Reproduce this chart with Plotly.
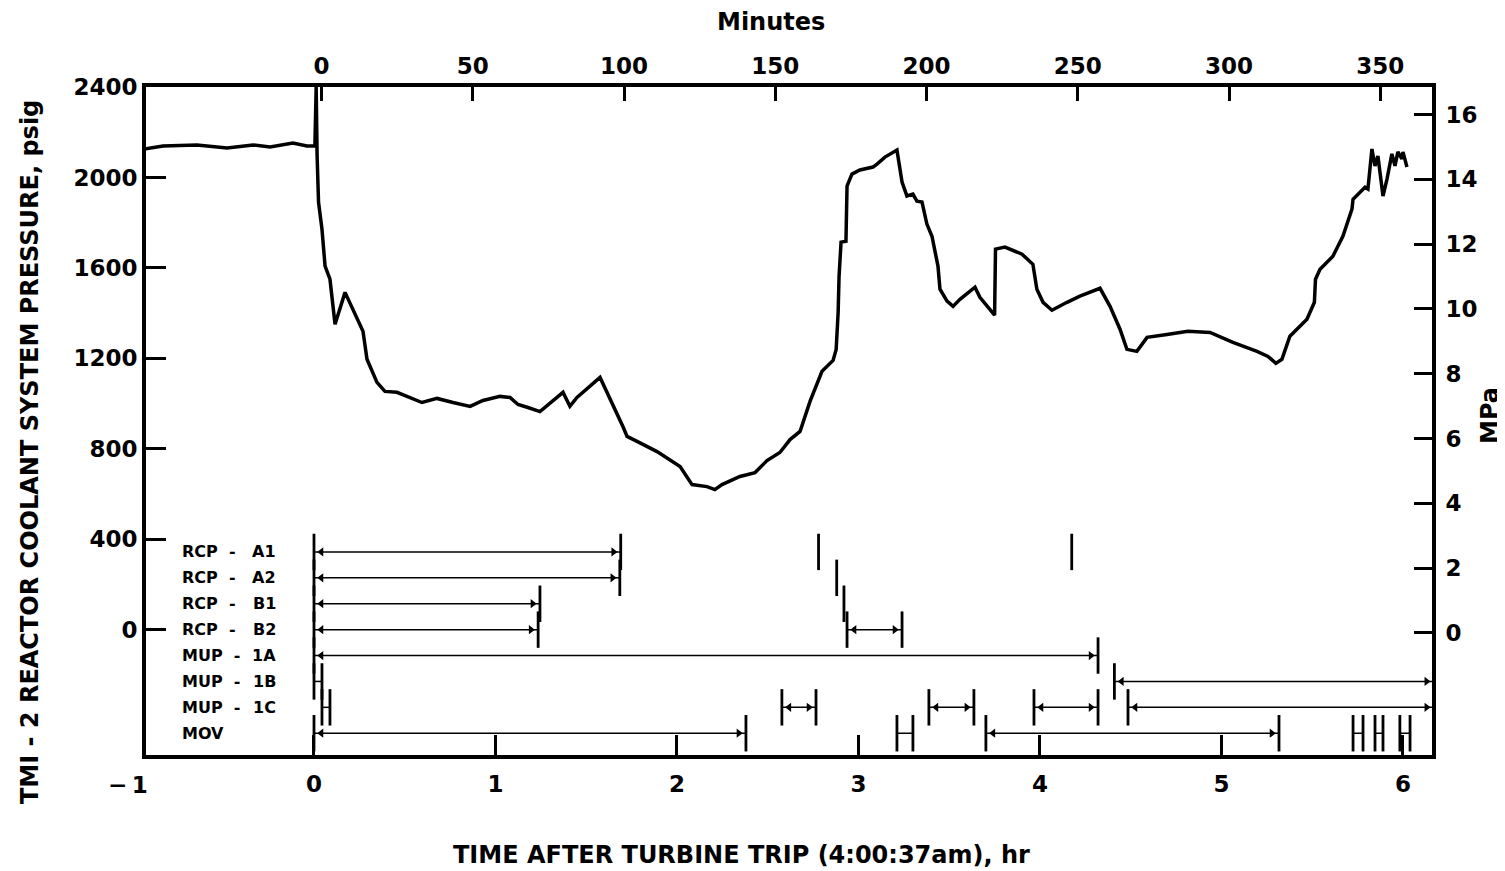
import plotly.graph_objects as go

# TMI-2 reactor coolant pressure, hours after turbine trip vs psig
TIME_HR = [
    -0.937, -0.832, -0.645, -0.479, -0.336, -0.242, -0.116, -0.039, 0.005,
    0.012, 0.017, 0.020, 0.025, 0.044, 0.061, 0.088, 0.116, 0.171, 0.270, 0.292,
    0.347, 0.391, 0.457, 0.595, 0.678, 0.766, 0.860, 0.931, 1.025, 1.080, 1.124,
    1.179, 1.245, 1.372, 1.410, 1.449, 1.548, 1.576, 1.702, 1.725, 1.780, 1.890,
    2.017, 2.083, 2.165, 2.209, 2.248, 2.347, 2.430, 2.496, 2.567, 2.623, 2.678,
    2.733, 2.799, 2.860, 2.877, 2.885, 2.888, 2.893, 2.904, 2.931, 2.937, 2.964,
    3.008, 3.080, 3.102, 3.146, 3.212, 3.240, 3.267, 3.300, 3.322, 3.350, 3.377,
    3.405, 3.438, 3.449, 3.488, 3.521, 3.559, 3.642, 3.669, 3.750, 3.752, 3.755,
    3.807, 3.901, 3.961, 3.983, 4.017, 4.066, 4.149, 4.220, 4.331, 4.386, 4.441,
    4.479, 4.534, 4.590, 4.700, 4.815, 4.937, 5.063, 5.196, 5.256, 5.300, 5.333,
    5.377, 5.471, 5.512, 5.518, 5.543, 5.614, 5.669, 5.719, 5.725, 5.763, 5.791,
    5.807, 5.829, 5.846, 5.862, 5.890, 5.912, 5.939, 5.956, 5.972, 5.994, 6.000,
    6.022,
]
PRESSURE_PSIG = [
    2126, 2139, 2144, 2130, 2144, 2135, 2152, 2139, 2140,
    2400, 2100, 1935, 1891, 1771, 1608, 1550, 1351, 1492, 1320, 1196,
    1094, 1054, 1050, 1005, 1023, 1005, 988, 1014, 1032, 1027, 996,
    983, 965, 1050, 988, 1027, 1094, 1116, 899, 855, 833, 788,
    722, 642, 633, 620, 642, 678, 695, 748, 784, 841, 877,
    1010, 1143, 1191, 1240, 1329, 1404, 1563, 1714, 1718, 1962, 2015,
    2033, 2046, 2059, 2090, 2121, 1980, 1918, 1926, 1895, 1891, 1794,
    1740, 1608, 1506, 1453, 1430, 1461, 1515, 1470, 1391, 1550, 1683,
    1692, 1661, 1616, 1506, 1448, 1413, 1448, 1475, 1510, 1430, 1329,
    1240, 1231, 1293, 1306, 1320, 1315, 1271, 1231, 1209, 1178, 1196,
    1298, 1373, 1448, 1550, 1594, 1652, 1740, 1860, 1904, 1935, 1957,
    1949, 2126, 2051, 2095, 1918, 1993, 2104, 2051, 2113, 2082, 2113,
    2046,
]

HOUR_TICKS = [0, 1, 2, 3, 4, 5, 6]
MINUTE_TICKS = [0, 50, 100, 150, 200, 250, 300, 350]
PSIG_TICKS = [0, 400, 800, 1200, 1600, 2000, 2400]
MPA_TICKS = [0, 2, 4, 6, 8, 10, 12, 14, 16]

# equipment status rows (hours); None end = still running at end of chart
ROWS = ["RCP - A1", "RCP - A2", "RCP - B1", "RCP - B2",
        "MUP - 1A", "MUP - 1B", "MUP - 1C", "MOV"]
RCP_A1_RUNS = [(0.0, 1.69)]
RCP_A1_MARKS = [2.78, 4.175]
RCP_A2_RUNS = [(0.0, 1.685)]
RCP_A2_MARKS = [2.88]
RCP_B1_RUNS = [(0.0, 1.245)]
RCP_B1_MARKS = [2.92]
RCP_B2_RUNS = [(0.0, 1.235), (2.937, 3.24)]
MUP_1A_RUNS = [(0.0, 4.32)]
MUP_1B_SHORT = [(0.0, 0.044)]
MUP_1B_RUNS = [(4.41, None)]
MUP_1C_SHORT = [(0.044, 0.088)]
MUP_1C_RUNS = [(2.578, 2.766), (3.388, 3.636), (3.967, 4.32), (4.485, None)]
MOV_RUNS = [(0.0, 2.38), (3.702, 5.317)]
MOV_SHORT = [(3.212, 3.30), (5.725, 5.78), (5.846, 5.89), (5.983, 6.039)]

X_RANGE = [-0.9256, 6.160]
MIN_OFFSET = 2.5
Y_RANGE = [-553.6, 2400]
MPA_RANGE = [-3.77, 16.85]
ROW_RANGE = [7.84, -17.95]

FONT = "DejaVu Sans"
BLACK = "black"
ARROW_OFF = 0.04

events = [
    (ROWS[0], RCP_A1_RUNS, [], RCP_A1_MARKS),
    (ROWS[1], RCP_A2_RUNS, [], RCP_A2_MARKS),
    (ROWS[2], RCP_B1_RUNS, [], RCP_B1_MARKS),
    (ROWS[3], RCP_B2_RUNS, [], []),
    (ROWS[4], MUP_1A_RUNS, [], []),
    (ROWS[5], MUP_1B_RUNS, MUP_1B_SHORT, []),
    (ROWS[6], MUP_1C_RUNS, MUP_1C_SHORT, []),
    (ROWS[7], MOV_RUNS, MOV_SHORT, []),
]

fig = go.Figure()
fig.add_trace(go.Scatter(x=TIME_HR, y=PRESSURE_PSIG, mode="lines",
                         line=dict(color=BLACK, width=3.5), showlegend=False))
# keep the minutes (top) and MPa (right) axes alive
fig.add_trace(go.Scatter(x=[], y=[], xaxis="x2", yaxis="y", showlegend=False, hoverinfo="skip"))
fig.add_trace(go.Scatter(x=[], y=[], xaxis="x", yaxis="y2", showlegend=False, hoverinfo="skip"))

label_font = dict(family=FONT, size=16, color=BLACK, weight="bold")
for row, runs, shorts, marks in events:
    lx, ly, tx, al, ar = [], [], [], [], []
    for s, e in runs:
        if e is None:
            e = X_RANGE[1]
            ar.append(e - 0.03)
        else:
            tx.append(e)
            ar.append(e - ARROW_OFF)
        tx.append(s)
        al.append(s + ARROW_OFF)
        lx += [s, e, None]
        ly += [row, row, None]
    for s, e in shorts:
        lx += [s, e, None]
        ly += [row, row, None]
        tx += [s, e]
    tx += marks
    fig.add_trace(go.Scatter(x=lx, y=ly, mode="lines", yaxis="y3",
                             line=dict(color=BLACK, width=1.5), showlegend=False))
    fig.add_trace(go.Scatter(x=tx, y=[row] * len(tx), mode="markers", yaxis="y3",
                             marker=dict(symbol="line-ns", size=26,
                                         line=dict(color=BLACK, width=2.8)),
                             showlegend=False))
    fig.add_trace(go.Scatter(x=al, y=[row] * len(al), mode="markers", yaxis="y3",
                             marker=dict(symbol="triangle-left", size=8, color=BLACK),
                             showlegend=False))
    fig.add_trace(go.Scatter(x=ar, y=[row] * len(ar), mode="markers", yaxis="y3",
                             marker=dict(symbol="triangle-right", size=8, color=BLACK),
                             showlegend=False))
    parts = row.split(" - ")
    prefix = parts[0] + ("\u00a0\u00a0-" if len(parts) > 1 else "")
    fig.add_annotation(x=0.0264, xref="paper", y=row, yref="y3", text=prefix,
                       showarrow=False, xanchor="left", yanchor="middle", font=label_font)
    if len(parts) > 1:
        fig.add_annotation(x=0.1024, xref="paper", y=row, yref="y3", text=parts[1],
                           showarrow=False, xanchor="right", yanchor="middle", font=label_font)

tickfont = dict(family=FONT, size=23, color=BLACK, weight="bold")
axis_common = dict(showline=True, linewidth=4, linecolor=BLACK, ticks="inside",
                   tickwidth=3, tickcolor=BLACK, showgrid=False, zeroline=False,
                   tickfont=tickfont)

fig.update_layout(
    width=1505, height=871,
    margin=dict(l=138, r=81, t=79, b=124),
    paper_bgcolor="white", plot_bgcolor="white",
    xaxis=dict(range=X_RANGE, tickvals=HOUR_TICKS, ticklen=20,
               ticklabelstandoff=5, **axis_common),
    xaxis2=dict(range=[60 * X_RANGE[0] - MIN_OFFSET, 60 * X_RANGE[1] - MIN_OFFSET],
                overlaying="x", side="top", anchor="y", tickvals=MINUTE_TICKS,
                ticklen=14, **axis_common),
    yaxis=dict(range=Y_RANGE, tickvals=PSIG_TICKS, ticklen=20,
               ticklabelstandoff=0, **axis_common),
    yaxis2=dict(range=MPA_RANGE, overlaying="y", side="right", anchor="x",
                tickvals=MPA_TICKS, ticklen=18, ticklabelstandoff=5, **axis_common),
    yaxis3=dict(type="category", categoryarray=ROWS, range=ROW_RANGE,
                overlaying="y", anchor="x", visible=False),
)

title_font = dict(family=FONT, size=24, color=BLACK, weight="bold")
fig.add_annotation(x=0.486, y=1.0973, xref="paper", yref="paper", text="Minutes",
                   showarrow=False, xanchor="center", yanchor="middle", font=title_font)
fig.add_annotation(x=0.4627, y=-0.1497, xref="paper", yref="paper",
                   text="TIME AFTER TURBINE TRIP (4:00:37am), hr",
                   showarrow=False, xanchor="center", yanchor="middle", font=title_font)
fig.add_annotation(x=-0.0902, y=0.4536, xref="paper", yref="paper",
                   text="TMI - 2 REACTOR COOLANT SYSTEM PRESSURE, psig",
                   showarrow=False, textangle=-90, xanchor="center", yanchor="middle",
                   font=title_font)
fig.add_annotation(x=1.0451, y=0.509, xref="paper", yref="paper", text="MPa",
                   showarrow=False, textangle=-90, xanchor="center", yanchor="middle",
                   font=title_font)
fig.add_annotation(x=-0.014, y=-0.0449, xref="paper", yref="paper", text="\u2212\u20091",
                   showarrow=False, xanchor="center", yanchor="middle", font=tickfont)

fig.write_html("out.html")
